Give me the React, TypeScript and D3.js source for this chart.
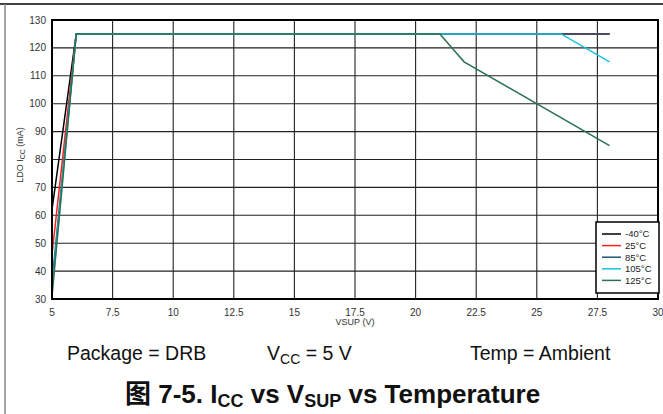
import React from "react";
import * as d3 from "d3";

// series: supply voltage (V) vs LDO current (mA)
const temps = ["-40°C", "25°C", "85°C", "105°C", "125°C"];
const colors = ["#000000", "#ff1f1f", "#1d5877", "#17c3dc", "#2b7152"];

const vsupM40 = [5, 6, 28];
const iccM40 = [62, 125, 125];
const vsup25 = [5, 6, 28];
const icc25 = [46, 125, 125];
const vsup85 = [5, 6, 28];
const icc85 = [36, 125, 125];
const vsup105 = [5, 6, 26, 28];
const icc105 = [33, 125, 125, 115];
const vsup125 = [5, 6, 21, 22, 28];
const icc125 = [31, 125, 125, 115, 85];

const xTicks = [5, 7.5, 10, 12.5, 15, 17.5, 20, 22.5, 25, 27.5, 30];
const yTicks = [30, 40, 50, 60, 70, 80, 90, 100, 110, 120, 130];

const W = 663;
const H = 414;
const m = { left: 52, right: 658, top: 20, bottom: 299 };
const font = "Arial, 'Liberation Sans', sans-serif";

const App = () => {
  const x = d3.scaleLinear().domain([5, 30]).range([m.left, m.right]);
  const y = d3.scaleLinear().domain([30, 130]).range([m.bottom, m.top]);

  const series = [
    [vsupM40, iccM40],
    [vsup25, icc25],
    [vsup85, icc85],
    [vsup105, icc105],
    [vsup125, icc125],
  ];

  const line = d3
    .line<[number, number]>()
    .x(d => x(d[0]))
    .y(d => y(d[1]));

  return (
    <svg
      width={W}
      height={H}
      style={{ position: "absolute", left: 0, top: 0, background: "#fff" }}
      fontFamily={font}
    >
      {/* page frame */}
      <line x1={0} x2={W} y1={4} y2={4} stroke="#000" strokeWidth={1.5} />
      <line x1={5} x2={5} y1={4} y2={H} stroke="#888" strokeWidth={1.5} />

      {/* grid */}
      {xTicks.map(t => (
        <line key={"gx" + t} x1={x(t)} x2={x(t)} y1={m.top} y2={m.bottom} stroke="#222" strokeWidth={1.1} />
      ))}
      {yTicks.map(t => (
        <line key={"gy" + t} x1={m.left} x2={m.right} y1={y(t)} y2={y(t)} stroke="#222" strokeWidth={1.1} />
      ))}

      {/* data */}
      {series.map((s, i) => (
        <path
          key={temps[i]}
          d={line(s[0].map((v, j) => [v, s[1][j]] as [number, number])) || ""}
          fill="none"
          stroke={colors[i]}
          strokeWidth={1.5}
        />
      ))}

      <rect
        x={m.left}
        y={m.top}
        width={m.right - m.left}
        height={m.bottom - m.top}
        fill="none"
        stroke="#000"
        strokeWidth={2}
      />

      {/* tick labels */}
      {xTicks.map(t => (
        <text key={"tx" + t} x={x(t)} y={316} fontSize={10} fill="#333" textAnchor="middle">
          {t}
        </text>
      ))}
      {yTicks.map(t => (
        <text key={"ty" + t} x={46} y={y(t) + 3.5} fontSize={10} fill="#333" textAnchor="end">
          {t}
        </text>
      ))}

      <text x={(m.left + m.right) / 2} y={325} fontSize={9} fill="#333" textAnchor="middle">
        VSUP (V)
      </text>
      <text transform="translate(23,155) rotate(-90)" fontSize={9} fill="#333" textAnchor="middle">
        LDO I<tspan fontSize={7} dy={2}>CC</tspan>
        <tspan dy={-2}> (mA)</tspan>
      </text>

      {/* legend */}
      <rect x={596} y={222} width={63} height={71} fill="#fff" stroke="#000" strokeWidth={1.5} />
      {temps.map((t, i) => {
        const ly = 234 + i * 11.6;
        return (
          <g key={"lg" + t}>
            <line x1={602} x2={621} y1={ly} y2={ly} stroke={colors[i]} strokeWidth={1.5} />
            <text x={625} y={ly + 3.3} fontSize={9.5} fill="#222">
              {t}
            </text>
          </g>
        );
      })}

      {/* conditions */}
      <text x={67} y={360} fontSize={19.5} fill="#111">
        Package = DRB
      </text>
      <text x={267} y={360} fontSize={19.5} fill="#111">
        V<tspan fontSize={14} dy={4}>CC</tspan>
        <tspan dy={-4}> = 5 V</tspan>
      </text>
      <text x={470} y={360} fontSize={19.5} fill="#111">
        Temp = Ambient
      </text>

      {/* caption */}
      <text x={125} y={403} fontSize={26} fontWeight="bold" fill="#111">
        <tspan fontFamily="'Noto Sans CJK SC', sans-serif">图</tspan>
        <tspan> 7-5. I</tspan>
        <tspan fontSize={18} dy={4}>CC</tspan>
        <tspan dy={-4}> vs V</tspan>
        <tspan fontSize={18} dy={4}>SUP</tspan>
        <tspan dy={-4}> vs Temperature</tspan>
      </text>
    </svg>
  );
};

export default App;
